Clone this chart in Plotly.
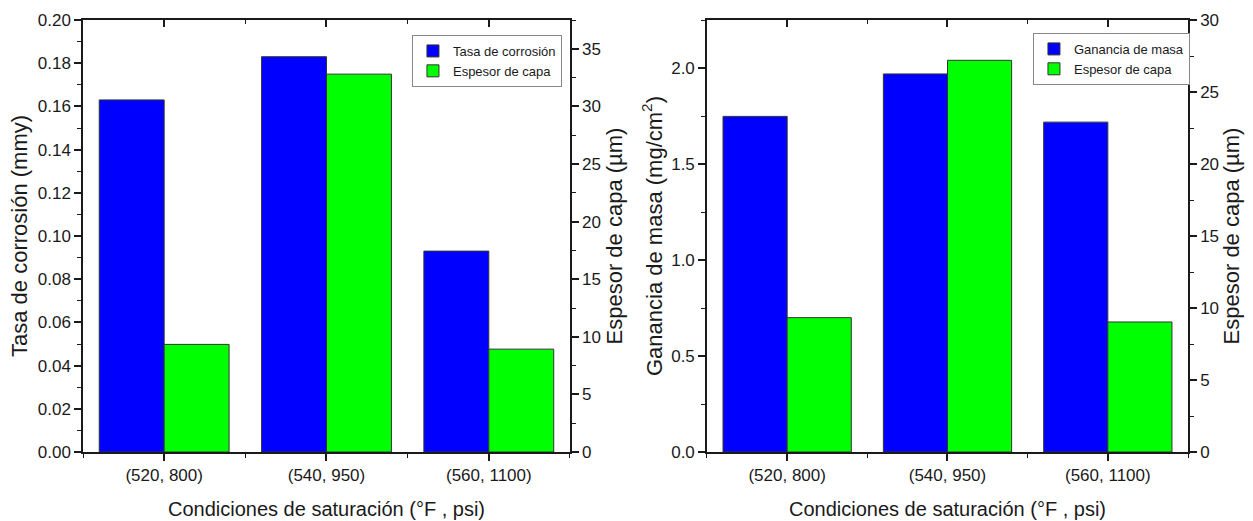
import plotly.graph_objects as go

# Saturation conditions (°F, psi) on the category axis
categories = ["(520, 800)", "(540, 950)", "(560, 1100)"]

# Left panel: corrosion rate (mmy) and layer thickness (µm)
tasa_corrosion = [0.163, 0.183, 0.093]
espesor_capa_izq = [9.34, 32.8, 8.93]

# Right panel: mass gain (mg/cm²) and layer thickness (µm)
ganancia_masa = [1.748, 1.969, 1.718]
espesor_capa_der = [9.33, 27.2, 9.03]

# Tick values for each axis
ticks_tasa = [0.00, 0.02, 0.04, 0.06, 0.08, 0.10, 0.12, 0.14, 0.16, 0.18, 0.20]
ticks_espesor_izq = [0, 5, 10, 15, 20, 25, 30, 35]
ticks_ganancia = [0.0, 0.5, 1.0, 1.5, 2.0]
ticks_espesor_der = [0, 5, 10, 15, 20, 25, 30]

pos = list(range(len(categories)))

BLUE = "#0000FF"
GREEN = "#00FF00"
EDGE = "#333333"
INK = "#1a1a1a"
FONT = "Liberation Sans, Arial, sans-serif"
TICK_FONT = dict(family=FONT, size=17, color=INK)
TITLE_FONT = dict(family=FONT, size=22, color=INK)
XTITLE_FONT = dict(family=FONT, size=20, color=INK)

fig = go.Figure()

bar_common = dict(width=0.4, marker_line=dict(color=EDGE, width=1))

# Blue bars sit on the bottom category axis, green bars on the top (mirrored) one
fig.add_trace(go.Bar(x=pos, y=tasa_corrosion, name="Tasa de corrosión",
                     offset=-0.4, marker_color=BLUE, xaxis="x", yaxis="y",
                     legend="legend", **bar_common))
fig.add_trace(go.Bar(x=pos, y=espesor_capa_izq, name="Espesor de capa",
                     offset=0.0, marker_color=GREEN, xaxis="x3", yaxis="y2",
                     legend="legend", **bar_common))
fig.add_trace(go.Bar(x=pos, y=ganancia_masa, name="Ganancia de masa",
                     offset=-0.4, marker_color=BLUE, xaxis="x2", yaxis="y3",
                     legend="legend2", **bar_common))
fig.add_trace(go.Bar(x=pos, y=espesor_capa_der, name="Espesor de capa",
                     offset=0.0, marker_color=GREEN, xaxis="x4", yaxis="y4",
                     legend="legend2", **bar_common))

LINE = dict(showline=True, linecolor=INK, linewidth=1.5, automargin=False,
            showgrid=False, zeroline=False, tickcolor=INK,
            tickwidth=1.5, ticklen=7, tickfont=TICK_FONT)


def minor(dtick, direction="outside"):
    return dict(ticks=direction, dtick=dtick, ticklen=4, tickwidth=1.2,
                tickcolor=INK, showgrid=False)


def x_axis(domain, anchor):
    return dict(domain=domain, anchor=anchor, range=[-0.5, 2.5],
                tickmode="array", tickvals=pos, ticktext=categories,
                ticks="outside", minor=minor(0.5), mirror=True,
                title=dict(text="Condiciones de saturación (°F , psi)",
                           font=XTITLE_FONT, standoff=18),
                **LINE)


def x_top(overlay, anchor):
    return dict(overlaying=overlay, anchor=anchor, side="top", range=[-0.5, 2.5],
                tickmode="array", tickvals=pos, showticklabels=False,
                ticks="inside", minor=minor(0.5, "inside"), **LINE)


def y_axis(anchor, rng, vals, fmt, title, dtick_minor, side="left",
           overlay=None, standoff=10):
    d = dict(anchor=anchor, range=rng, tickmode="array", tickvals=vals,
             tickformat=fmt, ticks="outside", side=side,
             minor=minor(dtick_minor),
             title=dict(text=title, font=TITLE_FONT, standoff=standoff),
             **LINE)
    if overlay:
        d["overlaying"] = overlay
    return d


dom_l = [0.0, 0.4407]
dom_r = [0.5647, 1.0]

legend_common = dict(xref="paper", yref="paper", xanchor="left", yanchor="top",
                     bgcolor="white", bordercolor="#888888", borderwidth=1,
                     font=dict(family=FONT, size=13, color=INK),
                     tracegroupgap=0, itemwidth=30)

fig.update_layout(
    width=1253, height=521,
    margin=dict(l=83, r=65, t=20, b=69),
    paper_bgcolor="white", plot_bgcolor="white",
    font=dict(family=FONT, color=INK),
    barmode="overlay",
    xaxis=x_axis(dom_l, "y"),
    xaxis2=x_axis(dom_r, "y3"),
    xaxis3=x_top("x", "y"),
    xaxis4=x_top("x2", "y3"),
    yaxis=y_axis("x", [0, 0.2], ticks_tasa, ".2f",
                 "Tasa de corrosión (mmy)", 0.01, standoff=4),
    yaxis2=y_axis("x", [0, 37.5], ticks_espesor_izq, "d",
                  "Espesor de capa (µm)", 2.5, side="right", overlay="y",
                  standoff=7),
    yaxis3=y_axis("x2", [0, 2.25], ticks_ganancia, ".1f",
                  "Ganancia de masa (mg/cm<sup>2</sup>)", 0.25, standoff=3),
    yaxis4=y_axis("x2", [0, 30], ticks_espesor_der, "d",
                  "Espesor de capa (µm)", 2.5, side="right", overlay="y3",
                  standoff=0),
    legend=dict(x=0.2977, y=0.9653, **legend_common),
    legend2=dict(x=0.8597, y=0.970, **legend_common),
)

fig.write_html("out.html")
